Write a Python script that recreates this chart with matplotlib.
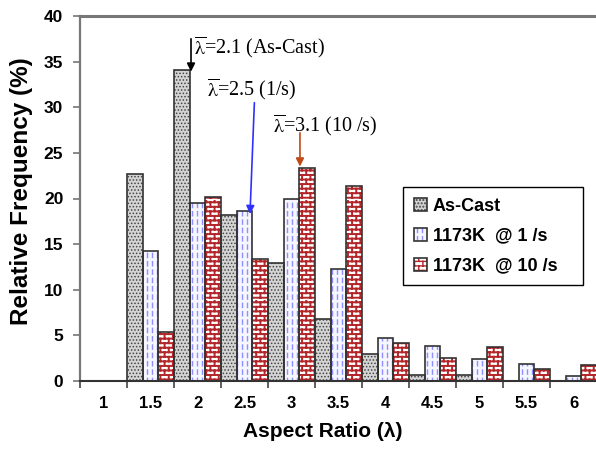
import warnings
import numpy as np
import matplotlib
matplotlib.use("Agg")
import matplotlib.pyplot as plt
import matplotlib.hatch as mhatch
from matplotlib.path import Path
from matplotlib.legend_handler import HandlerTuple

warnings.filterwarnings("ignore")

# ---------------- data ----------------
categories = ['1', '1.5', '2', '2.5', '3', '3.5', '4', '4.5', '5', '5.5', '6']
as_cast = [0, 22.7, 34.1, 18.2, 12.9, 6.8, 3.0, 0.7, 0.7, 0, 0]
rate_1 = [0, 14.2, 19.5, 18.6, 19.9, 12.3, 4.7, 3.8, 2.4, 1.9, 0.5]
rate_10 = [0, 5.4, 20.2, 13.4, 23.3, 21.4, 4.2, 2.5, 3.7, 1.3, 1.8]
series_labels = ['As-Cast', '1173K  @ 1 /s', '1173K  @ 10 /s']
mean_labels = [r'$\overline{\mathrm{\lambda}}$=2.1 (As-Cast)',
               r'$\overline{\mathrm{\lambda}}$=2.5 (1/s)',
               r'$\overline{\mathrm{\lambda}}$=3.1 (10 /s)']


# ---------------- custom hatches ----------------
class BrickHatch(mhatch.HatchPatternBase):
    def __init__(self, hatch, density):
        self.rows, self.cols = 22, 12
        self.num_vertices = (self.rows * 2 + self.rows * self.cols * 2) if 'B' in hatch else 0

    def set_vertices_and_codes(self, vertices, codes):
        v = []
        for r in range(self.rows):
            y = (r + 0.5) / self.rows
            v += [(0, y), (1, y)]
        for r in range(self.rows):
            off = 0.5 / self.cols if r % 2 else 0.0
            y0 = (r + 0.5) / self.rows
            y1 = (r + 1.5) / self.rows
            for c in range(self.cols):
                x = (c + 0.25) / self.cols + off
                v += [(x, y0), (x, y1)]
        vertices[:] = np.array(v)
        codes[0::2] = Path.MOVETO
        codes[1::2] = Path.LINETO


class DashHatch(mhatch.HatchPatternBase):
    def __init__(self, hatch, density):
        self.cols, self.periods = 20, 12
        self.num_vertices = (self.cols * self.periods * 2) if 'D' in hatch else 0

    def set_vertices_and_codes(self, vertices, codes):
        v = []
        for c in range(self.cols):
            x = (c + 0.5) / self.cols
            for p in range(self.periods):
                y0 = (p + 0.1) / self.periods
                y1 = (p + 0.6) / self.periods
                v += [(x, y0), (x, y1)]
        vertices[:] = np.array(v)
        codes[0::2] = Path.MOVETO
        codes[1::2] = Path.LINETO


mhatch._hatch_types.append(BrickHatch)
mhatch._hatch_types.append(DashHatch)

plt.rcParams['font.family'] = ['Liberation Sans', 'DejaVu Sans']
plt.rcParams['mathtext.fontset'] = 'stix'

fig = plt.figure(figsize=(5.96, 4.49), dpi=100)
ax = fig.add_axes([80 / 596, 68 / 449, 517 / 596, 365 / 449])

x = np.arange(len(categories))
w = 1 / 3
styles = [
    dict(face='#d4d4d4', hatch='.....', hcolor='#444444', hlw=0.7),
    dict(face='#f6f6ff', hatch='D', hcolor='#8f8fff', hlw=1.0),
    dict(face='#ffffff', hatch='B', hcolor='#b3262a', hlw=1.4),
]
handles = []
for k, (vals, st) in enumerate(zip([as_cast, rate_1, rate_10], styles)):
    pos = x + (k - 1) * w
    with plt.rc_context({'hatch.linewidth': st['hlw']}):
        fill = ax.bar(pos, vals, width=w, color=st['face'], edgecolor=st['hcolor'],
                      hatch=st['hatch'], linewidth=0, zorder=2)
    out = ax.bar(pos, vals, width=w, fill=False, edgecolor='#333333',
                 linewidth=1.2, zorder=3)
    handles.append((fill.patches[1], out.patches[1]))

ax.set_xlim(-0.5, len(categories) - 0.5)
ax.set_ylim(0, 40)
ax.set_yticks(np.arange(0, 41, 5))
ax.set_xticks(x)
ax.set_xticklabels(categories)
ax.set_xticks(np.arange(-0.5, len(categories), 1), minor=True)
ax.tick_params(axis='x', which='major', length=0, pad=11, labelsize=12)
ax.tick_params(axis='x', which='minor', length=5, width=1.2, color='#444444', direction='out')
ax.tick_params(axis='y', length=5, width=1.2, color='#777777', pad=7, labelsize=12.5)
for lab in ax.get_xticklabels() + ax.get_yticklabels():
    lab.set_fontweight('bold')

ax.spines['right'].set_visible(False)
ax.spines['left'].set_color('#777777')
ax.spines['left'].set_linewidth(1.6)
ax.spines['top'].set_color('#777777')
ax.spines['top'].set_linewidth(2.2)
ax.spines['bottom'].set_color('#333333')
ax.spines['bottom'].set_linewidth(1.5)

ax.set_xlabel('Aspect Ratio (λ)', fontsize=15, fontweight='bold')
ax.xaxis.set_label_coords(0.47, -0.112)
ax.set_ylabel('Relative Frequency (%)', fontsize=17.5, fontweight='bold')
ax.yaxis.set_label_coords(-0.09, 0.52)

# mean annotations
ann_text_xy = [(1.93, 36.5), (2.2, 31.9), (3.61, 27.9)]
ann_arrow = [((1.862, 37.5), (1.862, 33.9)),
             ((3.21, 30.5), (3.117, 18.3)),
             ((4.18, 27.2), (4.18, 23.5))]
ann_colors = ['black', '#3030ff', '#c04a18']
for txt, (tx, ty), (start, end), col in zip(mean_labels, ann_text_xy, ann_arrow, ann_colors):
    ax.text(tx, ty, txt, fontsize=14.5, family='Liberation Serif', va='center', ha='left', zorder=5)
    ax.annotate('', xy=end, xytext=start,
                arrowprops=dict(arrowstyle='-|>', color=col, lw=1.2,
                                mutation_scale=12, shrinkA=0, shrinkB=0), zorder=5)

leg = ax.legend(handles, series_labels, handler_map={tuple: HandlerTuple(ndivide=1)},
                loc='upper left', bbox_to_anchor=(0.625, 0.277, 0.348, 0.255), mode='expand',
                prop={'weight': 'bold', 'size': 13}, frameon=True, fancybox=False,
                edgecolor='black', framealpha=1, borderpad=0.6, labelspacing=0.72,
                handlelength=0.7, handleheight=0.7, handletextpad=0.35,
                borderaxespad=0)
leg.get_frame().set_linewidth(1.0)

fig.savefig('out.png', dpi=100)
